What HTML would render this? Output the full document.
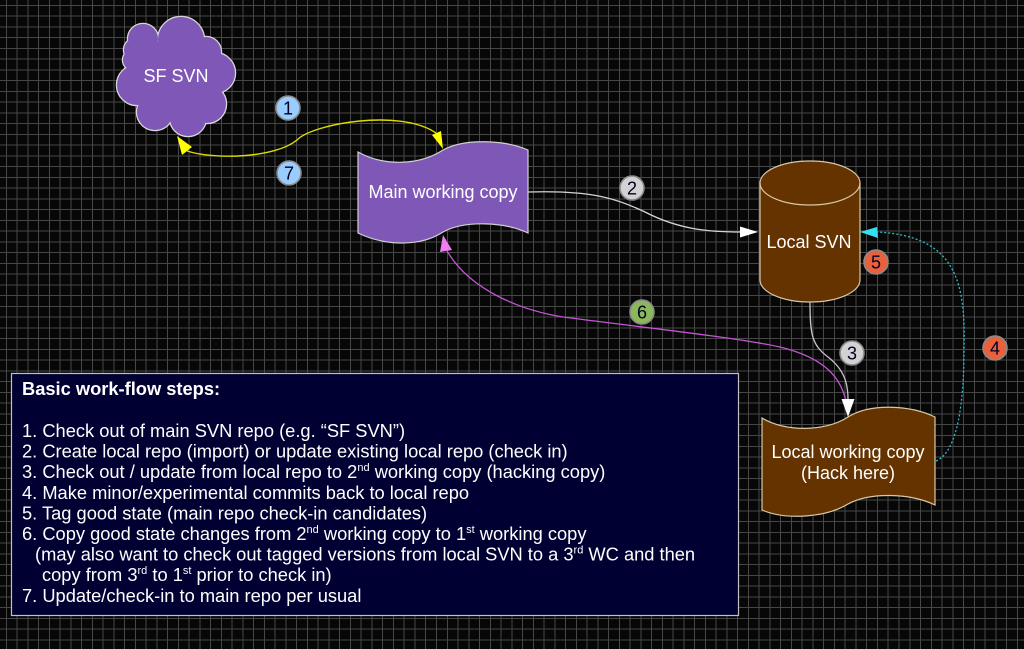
<!DOCTYPE html>
<html>
<head>
<meta charset="utf-8">
<style>
  html, body { margin:0; padding:0; }
  body { width:1024px; height:635px; overflow:hidden; background:#070707; position:relative; }
  #grid {
    position:absolute; left:-4.756px; top:-5.656px; width:1045px; height:655px;
    background-image:
      repeating-linear-gradient(90deg, #474747 0px, #474747 1px, transparent 1px, transparent 10.756px),
      repeating-linear-gradient(180deg, #474747 0px, #474747 1px, transparent 1px, transparent 10.756px);
  }
  svg { position:absolute; left:0; top:0; }
  text { font-family:"Liberation Sans", Arial, sans-serif; }
</style>
</head>
<body>
<div id="grid"></div>
<svg width="1024" height="635" viewBox="0 0 1024 635" xmlns="http://www.w3.org/2000/svg">
  <!-- Cloud: SF SVN -->
  <g fill="#7f57b7" stroke="#d8d8d8" stroke-width="2.5">
    <circle cx="143" cy="39" r="15"/>
    <circle cx="181" cy="40" r="23"/>
    <circle cx="206" cy="52" r="15"/>
    <circle cx="215" cy="73" r="20"/>
    <circle cx="207" cy="104" r="19"/>
    <circle cx="188" cy="118" r="18"/>
    <circle cx="155" cy="112" r="18"/>
    <circle cx="137" cy="85" r="20"/>
    <circle cx="133" cy="60" r="10"/>
    <circle cx="136" cy="50" r="12"/>
    <circle cx="175" cy="78" r="40"/>
  </g>
  <g fill="#7f57b7">
    <circle cx="143" cy="39" r="15"/>
    <circle cx="181" cy="40" r="23"/>
    <circle cx="206" cy="52" r="15"/>
    <circle cx="215" cy="73" r="20"/>
    <circle cx="207" cy="104" r="19"/>
    <circle cx="188" cy="118" r="18"/>
    <circle cx="155" cy="112" r="18"/>
    <circle cx="137" cy="85" r="20"/>
    <circle cx="133" cy="60" r="10"/>
    <circle cx="136" cy="50" r="12"/>
    <circle cx="175" cy="78" r="40"/>
  </g>
  <text x="176" y="82" font-size="18" fill="#ffffff" text-anchor="middle">SF SVN</text>

  <!-- Main working copy (tape) -->
  <path d="M358,152 C385,167 420,165 443,150 C465,138 505,140 528,150 L528,233 C505,222 465,220 443,232 C420,247 385,246 358,233 Z"
        fill="#7f57b7" stroke="#d0d0d0" stroke-width="1.2"/>
  <text x="443" y="198" font-size="18" fill="#ffffff" text-anchor="middle">Main working copy</text>

  <!-- Local SVN cylinder -->
  <path d="M760,183 V280 A50,22 0 0 0 860,280 V183 A50,22 0 0 0 760,183 Z" fill="#653300" stroke="#d8c8a8" stroke-width="1.2"/>
  <path d="M760,183 A50,22 0 0 0 860,183" fill="none" stroke="#d8c8a8" stroke-width="1.2"/>
  <text x="809" y="248" font-size="18" fill="#ffffff" text-anchor="middle">Local SVN</text>

  <!-- Local working copy (tape) -->
  <path d="M762,418 C785,432 825,432 848,417 C870,403 910,405 935,417 L935,505 C910,493 870,492 848,504 C825,518 785,520 762,510 Z"
        fill="#653300" stroke="#d8c8a8" stroke-width="1.2"/>
  <text x="848" y="458" font-size="18" fill="#ffffff" text-anchor="middle">Local working copy</text>
  <text x="848" y="479" font-size="18" fill="#ffffff" text-anchor="middle">(Hack here)</text>

  <!-- Connector 1/7 yellow -->
  <path d="M187,151 C215,160 275,158 297,140 C312,124 400,108 436,133" fill="none" stroke="#dcdc00" stroke-width="1.4"/>
  <polygon points="177,136 182,155 192,147" fill="#ffff00"/>
  <polygon points="443,149 432,135 441,131" fill="#ffff00"/>

  <!-- Connector 2 white -->
  <path d="M528,192 C590,190 615,198 645,212 C680,230 710,232 741,232" fill="none" stroke="#d4d4d4" stroke-width="1.3"/>
  <polygon points="758,232 740,226.5 740,237.5" fill="#ffffff"/>

  <!-- Connector 6 magenta -->
  <path d="M847,407 C843,378 825,358 780,347 C740,338 640,327 563,317 C520,310 470,290 447,251" fill="none" stroke="#c455d4" stroke-width="1.3"/>
  <polygon points="443,235 440,252 452,250" fill="#f07cf0"/>

  <!-- Connector 3 gray -->
  <path d="M810,302 C810,335 812,345 828,357 C845,370 848,385 848,399" fill="none" stroke="#c4c4c4" stroke-width="1.3"/>
  <polygon points="848,417 841.5,399 854.5,399" fill="#ffffff"/>

  <!-- Connector 4 cyan dotted -->
  <path d="M936,461 C958,452 964,400 964,350 C966,280 955,236 877,232" fill="none" stroke="#35b8c8" stroke-width="1.3" stroke-dasharray="2,2"/>
  <polygon points="860,232 877,227 878,238" fill="#33e0f0"/>

  <!-- Badges -->
  <g stroke="#8a8a8a" stroke-width="1.6">
    <circle cx="288" cy="108" r="12" fill="#99ccff"/>
    <circle cx="289" cy="173" r="12" fill="#99ccff"/>
    <circle cx="632" cy="188" r="12" fill="#d2d2d2"/>
    <circle cx="642" cy="312" r="12" fill="#8ab85a"/>
    <circle cx="852" cy="353" r="12" fill="#d2d2d2"/>
    <circle cx="876" cy="262" r="12" fill="#e8603c"/>
    <circle cx="995" cy="348" r="12" fill="#e8603c"/>
  </g>
  <g font-size="18" fill="#000022" text-anchor="middle">
    <text x="288" y="114.5">1</text>
    <text x="289" y="179.5">7</text>
    <text x="632" y="194.5">2</text>
    <text x="642" y="318.5">6</text>
    <text x="852" y="359.5">3</text>
    <text x="876" y="268.5">5</text>
    <text x="995" y="354.5">4</text>
  </g>

  <!-- Text box -->
  <rect x="11.5" y="373.5" width="727" height="242" fill="#000033" stroke="#c0c0c0" stroke-width="1.2"/>
  <g fill="#ffffff" font-size="18.3">
    <text x="22" y="395" font-weight="bold">Basic work-flow steps:</text>
    <text x="22" y="437">1. Check out of main SVN repo (e.g. “SF SVN”)</text>
    <text x="22" y="457.6">2. Create local repo (import) or update existing local repo (check in)</text>
    <text x="22" y="478.2">3. Check out / update from local repo to 2<tspan font-size="11" dy="-7">nd</tspan><tspan dy="7"> working copy (hacking copy)</tspan></text>
    <text x="22" y="498.8">4. Make minor/experimental commits back to local repo</text>
    <text x="22" y="519.4">5. Tag good state (main repo check-in candidates)</text>
    <text x="22" y="540">6. Copy good state changes from 2<tspan font-size="11" dy="-7">nd</tspan><tspan dy="7"> working copy to 1</tspan><tspan font-size="11" dy="-7">st</tspan><tspan dy="7"> working copy</tspan></text>
    <text x="35" y="560.6">(may also want to check out tagged versions from local SVN to a 3<tspan font-size="11" dy="-7">rd</tspan><tspan dy="7"> WC and then</tspan></text>
    <text x="42" y="581.2">copy from 3<tspan font-size="11" dy="-7">rd</tspan><tspan dy="7"> to 1</tspan><tspan font-size="11" dy="-7">st</tspan><tspan dy="7"> prior to check in)</tspan></text>
    <text x="22" y="601.8">7. Update/check-in to main repo per usual</text>
  </g>
</svg>
</body>
</html>
